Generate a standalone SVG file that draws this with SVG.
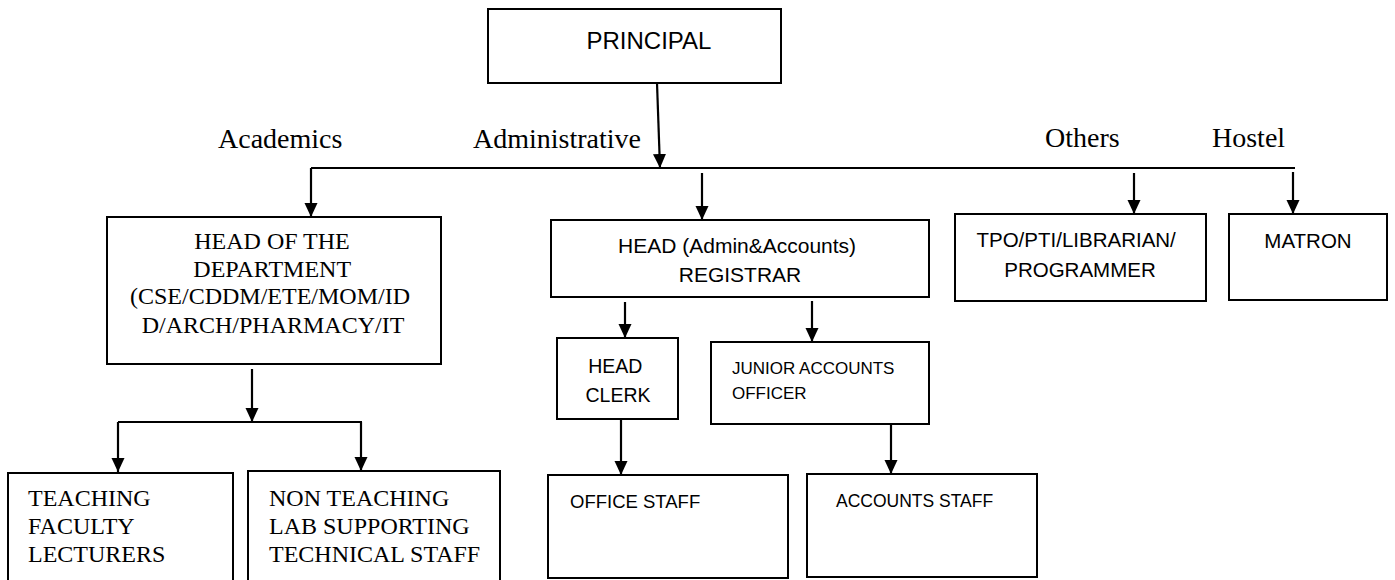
<svg xmlns="http://www.w3.org/2000/svg" width="1395" height="580" viewBox="0 0 1395 580">
<style>
.box{fill:#fff;stroke:#000;stroke-width:2}
.ln{fill:none;stroke:#000;stroke-width:2}
.arr{fill:none;stroke:#000;stroke-width:2.2;marker-end:url(#ah)}
.serif{font-family:"Liberation Serif","Times New Roman",serif;fill:#000}
.sans{font-family:"Liberation Sans",Arial,sans-serif;fill:#000}
</style>
<defs>
<marker id="ah" markerUnits="userSpaceOnUse" markerWidth="14" markerHeight="14" viewBox="0 0 14 14" refX="14" refY="7" orient="auto">
<path d="M0,0.5 L14,7 L0,13.5 z" fill="#000"/>
</marker>
</defs>
<rect width="1395" height="580" fill="#fff"/>

<g id="connectors">
<line class="ln" x1="311" y1="168" x2="1295" y2="168"/>
<line class="arr" x1="657" y1="83" x2="660" y2="168"/>
<line class="arr" x1="311" y1="168" x2="311" y2="217"/>
<line class="arr" x1="702" y1="173" x2="702" y2="220"/>
<line class="arr" x1="1134" y1="173" x2="1134" y2="214"/>
<line class="arr" x1="1293" y1="172" x2="1293" y2="214"/>
<line class="arr" x1="252" y1="369" x2="252" y2="422"/>
<line class="ln" x1="118" y1="422" x2="362" y2="422"/>
<line class="arr" x1="118" y1="422" x2="118" y2="472"/>
<line class="arr" x1="361" y1="422" x2="361" y2="471"/>
<line class="arr" x1="625" y1="302" x2="625" y2="338"/>
<line class="arr" x1="812" y1="301" x2="812" y2="342"/>
<line class="arr" x1="621" y1="419" x2="621" y2="475"/>
<line class="arr" x1="891" y1="424" x2="891" y2="474"/>
</g>

<g id="labels">
<text class="serif" x="218" y="148" font-size="28">Academics</text>
<text class="serif" x="473" y="148" font-size="28">Administrative</text>
<text class="serif" x="1045" y="147" font-size="28">Others</text>
<text class="serif" x="1212" y="147" font-size="28">Hostel</text>
</g>

<g id="principal">
<rect class="box" x="488" y="9" width="293" height="74"/>
<text class="sans" x="649" y="49" font-size="24" text-anchor="middle">PRINCIPAL</text>
</g>

<g id="hod">
<rect class="box" x="107" y="217" width="334" height="147"/>
<text class="serif" font-size="24" text-anchor="middle">
<tspan x="275" y="249">HEAD OF THE</tspan>
<tspan x="275" y="277">DEPARTMENT</tspan>
<tspan x="273" y="304">(CSE/CDDM/ETE/MOM/ID</tspan>
<tspan x="273" y="333">D/ARCH/PHARMACY/IT</tspan>
</text>
</g>

<g id="teaching">
<rect class="box" x="8" y="473" width="225" height="120"/>
<text class="serif" font-size="24">
<tspan x="28" y="506">TEACHING</tspan>
<tspan x="28" y="534">FACULTY</tspan>
<tspan x="28" y="562">LECTURERS</tspan>
</text>
</g>

<g id="nonteaching">
<rect class="box" x="248" y="471" width="252" height="120"/>
<text class="serif" font-size="24">
<tspan x="269" y="506">NON TEACHING</tspan>
<tspan x="269" y="534">LAB SUPPORTING</tspan>
<tspan x="269" y="562">TECHNICAL STAFF</tspan>
</text>
</g>

<g id="registrar">
<rect class="box" x="551" y="220" width="378" height="77"/>
<text class="sans" font-size="21" text-anchor="middle">
<tspan x="740" y="253">HEAD (Admin&amp;Accounts)</tspan>
<tspan x="740" y="282">REGISTRAR</tspan>
</text>
</g>

<g id="headclerk">
<rect class="box" x="557" y="338" width="121" height="81"/>
<text class="sans" font-size="19.5" text-anchor="middle">
<tspan x="618" y="373">HEAD</tspan>
<tspan x="618" y="402">CLERK</tspan>
</text>
</g>

<g id="jao">
<rect class="box" x="711" y="342" width="218" height="82"/>
<text class="sans" font-size="17">
<tspan x="732" y="374">JUNIOR ACCOUNTS</tspan>
<tspan x="732" y="399">OFFICER</tspan>
</text>
</g>

<g id="officestaff">
<rect class="box" x="548" y="475" width="240" height="103"/>
<text class="sans" x="570" y="508" font-size="18.5">OFFICE STAFF</text>
</g>

<g id="accountsstaff">
<rect class="box" x="807" y="474" width="230" height="103"/>
<text class="sans" x="836" y="507" font-size="17.5">ACCOUNTS STAFF</text>
</g>

<g id="others">
<rect class="box" x="955" y="214" width="251" height="87"/>
<text class="sans" font-size="20.5" text-anchor="middle">
<tspan x="1079" y="247">TPO/PTI/LIBRARIAN/</tspan>
<tspan x="1080" y="277">PROGRAMMER</tspan>
</text>
</g>

<g id="matron">
<rect class="box" x="1229" y="214" width="158" height="86"/>
<text class="sans" x="1308" y="248" font-size="20.5" text-anchor="middle">MATRON</text>
</g>
</svg>
